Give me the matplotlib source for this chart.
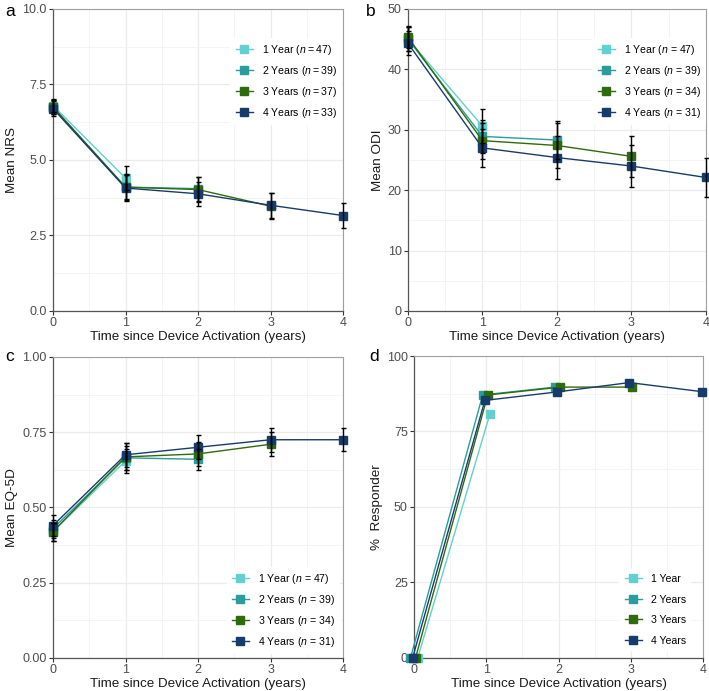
import matplotlib
matplotlib.use("Agg")
import matplotlib.pyplot as plt
import numpy as np

plt.rcParams['font.family'] = ['Liberation Sans', 'DejaVu Sans']
plt.rcParams['mathtext.fontset'] = 'custom'
plt.rcParams['mathtext.rm'] = 'Liberation Sans'
plt.rcParams['mathtext.it'] = 'Liberation Sans:italic'

# ---------------- data ----------------
times = [0, 1, 2, 3, 4]
series_names = ["1 Year", "2 Years", "3 Years", "4 Years"]

# Panel a: Mean NRS
nrs_1y = [6.80, 4.40]
nrs_1y_err = [0.22, 0.40]
nrs_2y = [6.75, 4.10, 4.05]
nrs_2y_err = [0.22, 0.40, 0.40]
nrs_3y = [6.75, 4.10, 4.02, 3.47]
nrs_3y_err = [0.24, 0.42, 0.42, 0.42]
nrs_4y = [6.70, 4.07, 3.88, 3.50, 3.16]
nrs_4y_err = [0.26, 0.42, 0.40, 0.42, 0.40]
nrs_labels = ["1 Year ($n$\u2009=\u200947)", "2 Years ($n$\u2009=\u200939)",
              "3 Years ($n$\u2009=\u200937)", "4 Years ($n$\u2009=\u200933)"]

# Panel b: Mean ODI
odi_1y = [45.0, 30.6]
odi_1y_err = [2.0, 2.8]
odi_2y = [45.0, 28.9, 28.3]
odi_2y_err = [2.0, 2.8, 3.2]
odi_3y = [45.3, 28.2, 27.4, 25.6]
odi_3y_err = [1.8, 3.0, 3.7, 3.4]
odi_4y = [44.3, 27.0, 25.4, 24.0, 22.1]
odi_4y_err = [2.0, 3.2, 3.5, 3.45, 3.3]
odi_labels = ["1 Year ($n$ = 47)", "2 Years ($n$ = 39)", "3 Years ($n$ = 34)", "4 Years ($n$ = 31)"]

# Panel c: Mean EQ-5D
eq_1y = [0.420, 0.655]
eq_1y_err = [0.030, 0.040]
eq_2y = [0.430, 0.665, 0.660]
eq_2y_err = [0.030, 0.040, 0.035]
eq_3y = [0.420, 0.668, 0.678, 0.710]
eq_3y_err = [0.030, 0.045, 0.040, 0.040]
eq_4y = [0.440, 0.675, 0.700, 0.725, 0.725]
eq_4y_err = [0.035, 0.040, 0.040, 0.040, 0.038]
eq_labels = ["1 Year ($n$ = 47)", "2 Years ($n$ = 39)", "3 Years ($n$ = 34)", "4 Years ($n$ = 31)"]

# Panel d: % Responder
resp_1y = [0, 80.8]
resp_2y = [0, 87.1, 89.7]
resp_3y = [0, 87.1, 89.7, 89.7]
resp_4y = [0, 85.3, 88.1, 91.2, 88.2]
resp_labels = ["1 Year", "2 Years", "3 Years", "4 Years"]

# ---------------- style ----------------
colors = ["#63CFCF", "#2A9C9C", "#2E6B0C", "#163C6C"]
dodge_d = [0.05, -0.05, 0.02, -0.02]
tick_color = "#4d4d4d"
line_w = 1.0

fig = plt.figure(figsize=(7.09, 6.91), dpi=100)

def style_axes(ax, ylim, yticks, yticklabels, ylabel):
    ax.set_xlim(0, 4)
    ax.set_ylim(*ylim)
    ax.set_xticks([0, 1, 2, 3, 4])
    ax.set_xticks([0.5, 1.5, 2.5, 3.5], minor=True)
    ax.set_yticks(yticks)
    ax.set_yticklabels(yticklabels)
    step = yticks[1] - yticks[0]
    ax.set_yticks([v + step / 2 for v in yticks[:-1]], minor=True)
    ax.grid(True, which='major', color='#ebebeb', lw=0.9, zorder=0)
    ax.grid(True, which='minor', color='#f3f3f3', lw=0.6, zorder=0)
    ax.set_axisbelow(True)
    for s in ['left', 'bottom']:
        ax.spines[s].set_color('#555555')
        ax.spines[s].set_linewidth(0.9)
    for s in ['top', 'right']:
        ax.spines[s].set_color('#a0a0a0')
        ax.spines[s].set_linewidth(0.8)
    ax.tick_params(which='major', length=3, width=0.8, color='#333333',
                   labelsize=9, labelcolor=tick_color, pad=1.5)
    ax.tick_params(which='minor', length=0)
    ax.set_xlabel("Time since Device Activation (years)", fontsize=9.6, labelpad=1, color='#1a1a1a')
    ax.set_ylabel(ylabel, fontsize=9.7, labelpad=3, color='#1a1a1a')

def make_legend(ax, handles, loc, anchor, spacing=0.66):
    leg = ax.legend(handles=handles, loc=loc, bbox_to_anchor=anchor, frameon=True,
                    fontsize=7.6, handlelength=1.6, handletextpad=0.85, labelspacing=spacing,
                    borderaxespad=0.0, borderpad=0.5)
    leg.get_frame().set_edgecolor('none')
    leg.get_frame().set_facecolor('white')
    leg.get_frame().set_alpha(1)
    return leg

def draw_err_panel(ax, vals, errs, labels):
    handles = []
    for i, v in enumerate(vals):
        x = times[:len(v)]
        h, = ax.plot(x, v, color=colors[i], lw=line_w, marker='s', ms=5.5,
                     mec=colors[i], mfc=colors[i], zorder=3 + i * 0.1, clip_on=False,
                     label=labels[i])
        handles.append(h)
    for i, (v, e) in enumerate(zip(vals, errs)):
        x = times[:len(v)]
        ax.errorbar(x, v, yerr=e, fmt='none', ecolor='black', elinewidth=1.0,
                    capsize=1.8, capthick=1.0, zorder=5, clip_on=False)
    return handles

# Panel a
ax_a = fig.add_axes([0.0748, 0.550, 0.409, 0.437])
style_axes(ax_a, (0, 10), [0, 2.5, 5, 7.5, 10], ["0.0", "2.5", "5.0", "7.5", "10.0"], "Mean NRS")
h = draw_err_panel(ax_a, [nrs_1y, nrs_2y, nrs_3y, nrs_4y],
                   [nrs_1y_err, nrs_2y_err, nrs_3y_err, nrs_4y_err], nrs_labels)
make_legend(ax_a, h, 'upper right', (0.997, 0.905))

# Panel b
ax_b = fig.add_axes([0.5755, 0.550, 0.420, 0.437])
style_axes(ax_b, (0, 50), [0, 10, 20, 30, 40, 50], ["0", "10", "20", "30", "40", "50"], "Mean ODI")
h = draw_err_panel(ax_b, [odi_1y, odi_2y, odi_3y, odi_4y],
                   [odi_1y_err, odi_2y_err, odi_3y_err, odi_4y_err], odi_labels)
make_legend(ax_b, h, 'upper right', (1.0, 0.905))

# Panel c
ax_c = fig.add_axes([0.0748, 0.0478, 0.409, 0.4356])
style_axes(ax_c, (0, 1), [0, 0.25, 0.5, 0.75, 1.0], ["0.00", "0.25", "0.50", "0.75", "1.00"], "Mean EQ-5D")
h = draw_err_panel(ax_c, [eq_1y, eq_2y, eq_3y, eq_4y],
                   [eq_1y_err, eq_2y_err, eq_3y_err, eq_4y_err], eq_labels)
make_legend(ax_c, h, 'lower right', (0.99, 0.012))

# Panel d
ax_d = fig.add_axes([0.584, 0.0478, 0.4076, 0.437])
style_axes(ax_d, (0, 100), [0, 25, 50, 75, 100], ["0", "25", "50", "75", "100"], "%  Responder")
handles = []
for i, v in enumerate([resp_1y, resp_2y, resp_3y, resp_4y]):
    x = [t + dodge_d[i] for t in times[:len(v)]]
    hh, = ax_d.plot(x, v, color=colors[i], lw=line_w, marker='s', ms=5.5,
                    zorder=3 + i * 0.1, clip_on=False, label=resp_labels[i])
    handles.append(hh)
make_legend(ax_d, handles, 'lower right', (0.958, 0.023), spacing=1.0)

# Panel letters
fig.text(5 / 709, 1 - 11 / 691, "a", fontsize=12.5, va='center', ha='left')
fig.text(366 / 709, 1 - 11 / 691, "b", fontsize=12.5, va='center', ha='left')
fig.text(5 / 709, 1 - 357 / 691, "c", fontsize=12.5, va='center', ha='left')
fig.text(369 / 709, 1 - 357 / 691, "d", fontsize=12.5, va='center', ha='left')

fig.savefig("out.png", dpi=100)
